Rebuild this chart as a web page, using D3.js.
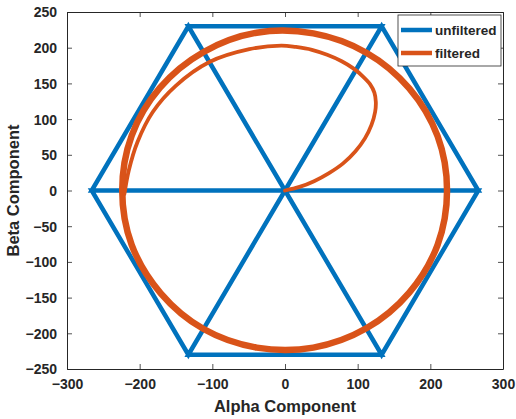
<!DOCTYPE html>
<html>
<head>
<meta charset="utf-8">
<script src="https://cdn.jsdelivr.net/npm/d3@7"></script>
<style>
  body { margin: 0; background: #fff; }
  text { font-family: "Liberation Sans", Arial, sans-serif; font-weight: bold; fill: #262626; }
</style>
</head>
<body>
<div id="chart"></div>
<script>
// unfiltered: space vector path (origin -> vertex -> vertex -> origin ...)
var unfilteredAlpha = [0, 266, 133, 0, 133, -133, 0, -133, -266, 0, -266, -133, 0, -133, 133, 0, 133, 266, 0];
var unfilteredBeta  = [0, 0, 230, 0, 230, 230, 0, 230, 0, 0, 0, -230, 0, -230, -230, 0, -230, 0, 0];

// filtered: start-up transient from origin
var transientAlpha = [0, 20, 40, 60, 80, 97, 110, 119, 124, 125, 123, 117, 107, 94, 78, 58, 37, 15, -5, -49, -104, -150, -182, -203, -215, -221];
var transientBeta  = [0, 5, 13, 24, 38, 55, 73, 92, 110, 124, 137, 149, 160, 171, 181, 190, 197, 201, 203, 198, 180, 147, 110, 68, 28, -5];

// filtered: steady state loop
var steadyAlpha = [223, 210, 171, 112, 39, -39, -112, -172, -211, -224, -211, -171, -112, -39, 39, 112, 171, 210];
var steadyBeta  = [0, 76, 143, 193, 220, 221, 194, 144, 77, 0, -76, -144, -194, -220, -220, -193, -143, -76];

var xTicks = [-300, -200, -100, 0, 100, 200, 300];
var yTicks = [-250, -200, -150, -100, -50, 0, 50, 100, 150, 200, 250];

var seriesNames = ["unfiltered", "filtered"];
var seriesColors = ["#0072BD", "#D95319"];

var W = 516, H = 419;
var margin = {top: 12, right: 13, bottom: 50, left: 67};
var width = W - margin.left - margin.right,
    height = H - margin.top - margin.bottom;

var svg = d3.select("#chart").append("svg")
    .attr("width", W)
    .attr("height", H);

var x = d3.scaleLinear().domain([-300, 300]).range([0, width]);
var y = d3.scaleLinear().domain([-250, 250]).range([height, 0]);

var g = svg.append("g")
    .attr("transform", "translate(" + margin.left + "," + margin.top + ")");

g.append("defs").append("clipPath").attr("id", "clip")
  .append("rect").attr("width", width).attr("height", height);

function pts(a, b) { return a.map(function(v, i) { return [v, b[i]]; }); }

var line = d3.line().x(d => x(d[0])).y(d => y(d[1]));
var smooth = d3.line().x(d => x(d[0])).y(d => y(d[1])).curve(d3.curveCatmullRom);
var smoothClosed = d3.line().x(d => x(d[0])).y(d => y(d[1])).curve(d3.curveCatmullRomClosed);

var plot = g.append("g").attr("clip-path", "url(#clip)");

plot.append("path")
    .attr("d", line(pts(unfilteredAlpha, unfilteredBeta)))
    .attr("fill", "none")
    .attr("stroke", seriesColors[0])
    .attr("stroke-width", 4.5)
    .attr("stroke-linejoin", "miter");

plot.append("path")
    .attr("d", smoothClosed(pts(steadyAlpha, steadyBeta)))
    .attr("fill", "none")
    .attr("stroke", seriesColors[1])
    .attr("stroke-width", 6.5);

plot.append("path")
    .attr("d", smooth(pts(transientAlpha, transientBeta)))
    .attr("fill", "none")
    .attr("stroke", seriesColors[1])
    .attr("stroke-width", 3.8)
    .attr("stroke-linecap", "round");

// axes (box with inner ticks)
var axisColor = "#262626";
var xb = g.append("g").attr("transform", "translate(0," + height + ")")
    .call(d3.axisBottom(x).tickValues(xTicks).tickSizeInner(-5).tickSizeOuter(0).tickPadding(10));
var yl = g.append("g")
    .call(d3.axisLeft(y).tickValues(yTicks).tickSizeInner(-5).tickSizeOuter(0).tickPadding(10));
var xt = g.append("g")
    .call(d3.axisTop(x).tickValues(xTicks).tickSizeInner(-5).tickSizeOuter(0).tickFormat(""));
var yr = g.append("g").attr("transform", "translate(" + width + ",0)")
    .call(d3.axisRight(y).tickValues(yTicks).tickSizeInner(-5).tickSizeOuter(0).tickFormat(""));

[xb, yl, xt, yr].forEach(function(a) {
  a.select(".domain").attr("stroke", axisColor).attr("stroke-width", 1);
  a.selectAll(".tick line").attr("stroke", axisColor).attr("stroke-width", 0.8);
  a.selectAll("text").attr("fill", axisColor).style("font-size", "14px").style("font-weight", "bold")
    .style("font-family", "'Liberation Sans', Arial, sans-serif");
});
yl.selectAll("text").attr("dy", "0.35em");

// axis labels
g.append("text")
    .attr("x", width / 2)
    .attr("y", height + 43)
    .attr("text-anchor", "middle")
    .style("font-size", "16.5px")
    .text("Alpha Component");

g.append("text")
    .attr("transform", "translate(" + (-48) + "," + (height / 2) + ") rotate(-90)")
    .attr("text-anchor", "middle")
    .style("font-size", "16.5px")
    .text("Beta Component");

// legend
var legend = g.append("g").attr("transform", "translate(" + (width - 105) + ",3)");
legend.append("rect")
    .attr("width", 103).attr("height", 51)
    .attr("fill", "#fff")
    .attr("stroke", axisColor).attr("stroke-width", 0.8);

var items = legend.selectAll(".item")
    .data(seriesNames)
    .enter().append("g")
    .attr("class", "item")
    .attr("transform", function(d, i) { return "translate(0," + (15 + i * 23) + ")"; });

items.append("line")
    .attr("x1", 3).attr("x2", 34)
    .attr("y1", 0).attr("y2", 0)
    .attr("stroke", (d, i) => seriesColors[i])
    .attr("stroke-width", 4.5);

items.append("text")
    .attr("x", 37)
    .attr("y", 0)
    .attr("dy", "0.35em")
    .style("font-size", "13.5px")
    .text(d => d);
</script>
</body>
</html>
